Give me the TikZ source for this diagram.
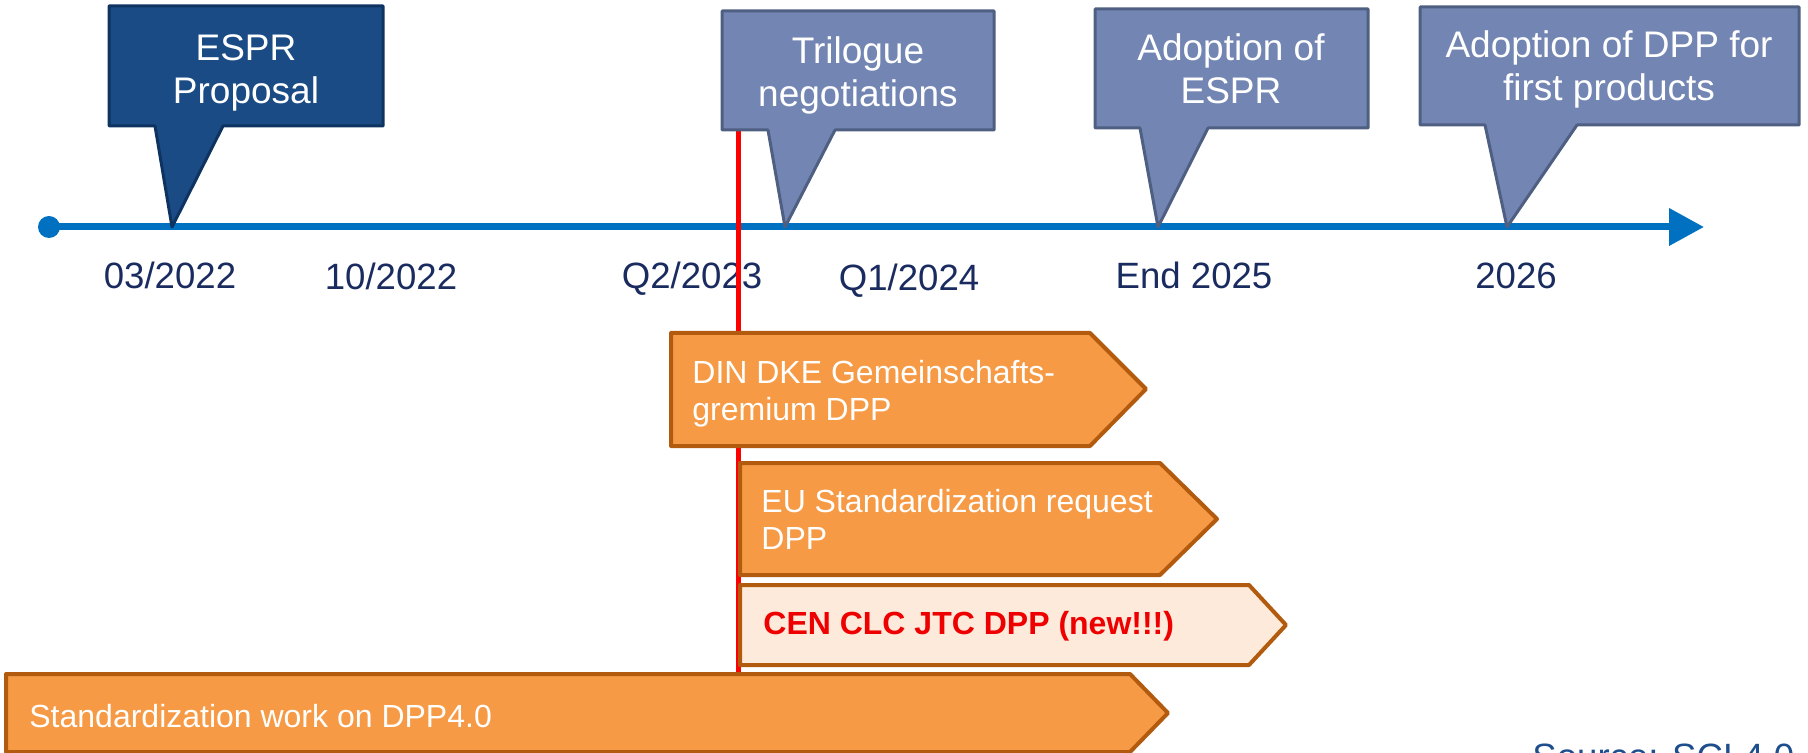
\documentclass[tikz,border=0pt]{standalone}
\usepackage{fontspec}
\setmainfont{Liberation Sans}
\usetikzlibrary{arrows.meta}
\definecolor{tlblue}{HTML}{0070C0}
\definecolor{esprfill}{HTML}{1A4B84}
\definecolor{esprline}{HTML}{0F3361}
\definecolor{trifill}{HTML}{7386B3}
\definecolor{triline}{HTML}{4E5F82}
\definecolor{datecol}{HTML}{1A2B5F}
\definecolor{barfill}{HTML}{F69A45}
\definecolor{barline}{HTML}{B25B0E}
\definecolor{lightfill}{HTML}{FDEADA}
\definecolor{newred}{HTML}{EE0000}
\definecolor{srccol}{HTML}{1F4E8C}
\begin{document}
\begin{tikzpicture}[x=0.5pt,y=-0.5pt,
  callA/.style={fill=esprfill,draw=esprline,line width=1.5pt,line join=round},
  callB/.style={fill=trifill,draw=triline,line width=1.5pt,line join=round},
  bar/.style={fill=barfill,draw=barline,line width=2pt,line join=round},
  lightbar/.style={fill=lightfill,draw=barline,line width=2pt,line join=round},
  ctext/.style={text=white,align=center,font=\fontsize{18.5}{21.5}\selectfont,inner sep=0pt},
  btext/.style={text=white,align=left,font=\fontsize{16}{18.5}\selectfont,inner sep=0pt,anchor=west},
  datelbl/.style={text=datecol,font=\fontsize{18.3}{22}\selectfont,anchor=base,inner sep=0pt},
  timeline/.style={draw=tlblue,line width=3.5pt,-{Triangle[length=17.5pt,width=18pt]}},
  redline/.style={draw=red,line width=2.5pt}]
\clip (0,0) rectangle (1808,753);
% timeline
\coordinate (tlstart) at (49,227);
\coordinate (tlend) at (1704,227);
\draw[timeline] (tlstart) -- (tlend);
\fill[tlblue] (tlstart) circle (11);
% date labels
\node[datelbl] (d1) at (170,289) {03/2022};
\node[datelbl] (d2) at (391,290) {10/2022};
\node[datelbl] (d3) at (692,289) {Q2/2023};
\node[datelbl] (d4) at (909,291) {Q1/2024};
\node[datelbl] (d5) at (1194,289) {End 2025};
\node[datelbl] (d6) at (1516,289) {2026};
% red marker
\coordinate (redtop) at (738,129);
\coordinate (redbot) at (738,674);
\draw[redline] (redtop) -- (redbot);
% callouts
\draw[callA] (109,6) -- (383,6) -- (383,126) -- (223,126) -- (172,227) -- (155,126) -- (109,126) -- cycle;
\node[ctext] (espr) at (246,73) {ESPR\\Proposal};
\draw[callB] (722,11) -- (994,11) -- (994,130) -- (835,130) -- (785,227) -- (768,130) -- (722,130) -- cycle;
\node[ctext] (tri) at (858,75) {Trilogue\\negotiations};
\draw[callB] (1095,9) -- (1368,9) -- (1368,128) -- (1208,128) -- (1158,227) -- (1140,128) -- (1095,128) -- cycle;
\node[ctext] (adespr) at (1231,69) {Adoption of\\ESPR};
\draw[callB] (1420,7) -- (1799,7) -- (1799,125) -- (1577,125) -- (1507,227) -- (1485,125) -- (1420,125) -- cycle;
\node[ctext] (addpp) at (1609,69) {Adoption of DPP for\\first products};
% bars
\draw[bar] (671,333) -- (1090,333) -- (1146,389) -- (1090,446) -- (671,446) -- cycle;
\node[btext] (din) at (692,394) {DIN DKE Gemeinschafts-\\gremium DPP};
\draw[bar] (740,463) -- (1160,463) -- (1217,519) -- (1160,575) -- (740,575) -- cycle;
\node[btext] (eu) at (761,519) {EU Standardization request\\DPP};
\draw[lightbar] (740,585) -- (1249,585) -- (1286,625) -- (1249,665) -- (740,665) -- cycle;
\node[btext,text=newred,font=\fontsize{16}{18.5}\selectfont\bfseries] (cen) at (763,626) {CEN CLC JTC DPP (new!!!)};
\draw[bar] (6,674) -- (1130,674) -- (1168,713) -- (1130,752) -- (6,752) -- cycle;
\node[btext] (std) at (29,716) {Standardization work on DPP4.0};
% source
\node[text=srccol,font=\fontsize{18.3}{22}\selectfont,anchor=base west,inner sep=0pt] (src) at (1532,769) {Source: SCI 4.0};
\end{tikzpicture}
\end{document}
